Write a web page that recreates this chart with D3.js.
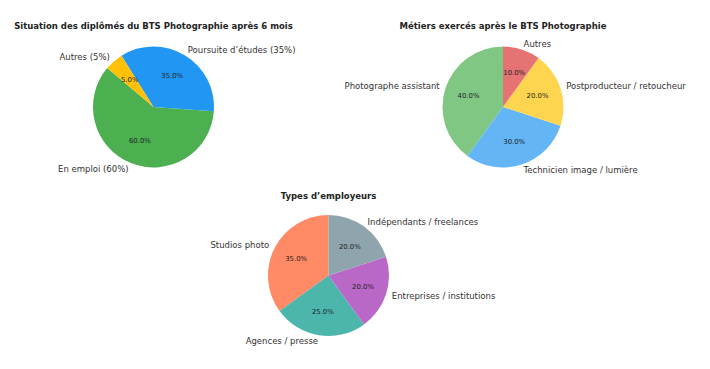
<!DOCTYPE html>
<html>
<head>
<meta charset="utf-8">
<script src="https://cdn.jsdelivr.net/npm/d3@7"></script>
<style>
  body { margin: 0; background: #fff; }
  svg { display: block; font-family: "DejaVu Sans", sans-serif; }
</style>
</head>
<body>
<div id="chart"></div>
<script>
// Chart 1 : situation après 6 mois
const situationLabels = ["En emploi (60%)", "Poursuite d\u2019études (35%)", "Autres (5%)"];
const situationValues = [60, 35, 5];
const situationColors = ["#4CAF50", "#2196F3", "#FFC107"];

// Chart 2 : métiers exercés
const metierLabels = ["Photographe assistant", "Technicien image / lumière", "Postproducteur / retoucheur", "Autres"];
const metierValues = [40, 30, 20, 10];
const metierColors = ["#81C784", "#64B5F6", "#FFD54F", "#E57373"];

// Chart 3 : types d'employeurs
const employeurLabels = ["Studios photo", "Agences / presse", "Entreprises / institutions", "Indépendants / freelances"];
const employeurValues = [35, 25, 20, 20];
const employeurColors = ["#FF8A65", "#4DB6AC", "#BA68C8", "#90A4AE"];

const width = 710;
const height = 369;
const radius = 60.5;

const svg = d3.select("#chart")
  .append("svg")
  .attr("width", width)
  .attr("height", height);

const charts = [
  { title: "Situation des diplômés du BTS Photographie après 6 mois", labels: situationLabels, values: situationValues, colors: situationColors, startAngle: 140, cx: 153.5, cy: 107, titleY: 28.7 },
  { title: "Métiers exercés après le BTS Photographie", labels: metierLabels, values: metierValues, colors: metierColors, startAngle: 90, cx: 503, cy: 107, titleY: 28.7 },
  { title: "Types d\u2019employeurs", labels: employeurLabels, values: employeurValues, colors: employeurColors, startAngle: 90, cx: 328.5, cy: 275.5, titleY: 199 }
];

charts.forEach((c) => {
  const g = svg.append("g").attr("transform", `translate(${c.cx},${c.cy})`);

  // matplotlib style : counterclockwise from startangle (degrees from the x axis)
  const start = (90 - c.startAngle) * Math.PI / 180;
  const pie = d3.pie()
    .sort(null)
    .value((d) => d.value)
    .startAngle(start)
    .endAngle(start - 2 * Math.PI);

  const data = c.values.map((v, i) => ({ label: c.labels[i], value: v, color: c.colors[i] }));
  const total = d3.sum(c.values);
  const arcs = pie(data);

  const arc = d3.arc().innerRadius(0).outerRadius(radius);
  const pctArc = d3.arc().innerRadius(radius * 0.6).outerRadius(radius * 0.6);
  const labelArc = d3.arc().innerRadius(radius * 1.1).outerRadius(radius * 1.1);

  g.selectAll("path.slice")
    .data(arcs)
    .enter()
    .append("path")
    .attr("class", "slice")
    .attr("d", arc)
    .attr("fill", (d) => d.data.color);

  g.selectAll("text.pct")
    .data(arcs)
    .enter()
    .append("text")
    .attr("class", "pct")
    .attr("transform", (d) => `translate(${pctArc.centroid(d)})`)
    .attr("text-anchor", "middle")
    .attr("dy", "0.35em")
    .style("font-size", "6.9px")
    .style("fill", "#222")
    .text((d) => `${(d.data.value / total * 100).toFixed(1)}%`);

  g.selectAll("text.lbl")
    .data(arcs)
    .enter()
    .append("text")
    .attr("class", "lbl")
    .attr("transform", (d) => `translate(${labelArc.centroid(d)})`)
    .attr("text-anchor", (d) => labelArc.centroid(d)[0] > 0 ? "start" : "end")
    .attr("dy", "0.35em")
    .style("font-size", "8.5px")
    .style("fill", "#333")
    .text((d) => d.data.label);

  svg.append("text")
    .attr("x", c.cx)
    .attr("y", c.titleY)
    .attr("text-anchor", "middle")
    .style("font-size", "8.5px")
    .style("font-weight", "bold")
    .style("fill", "#222")
    .text(c.title);
});
</script>
</body>
</html>
